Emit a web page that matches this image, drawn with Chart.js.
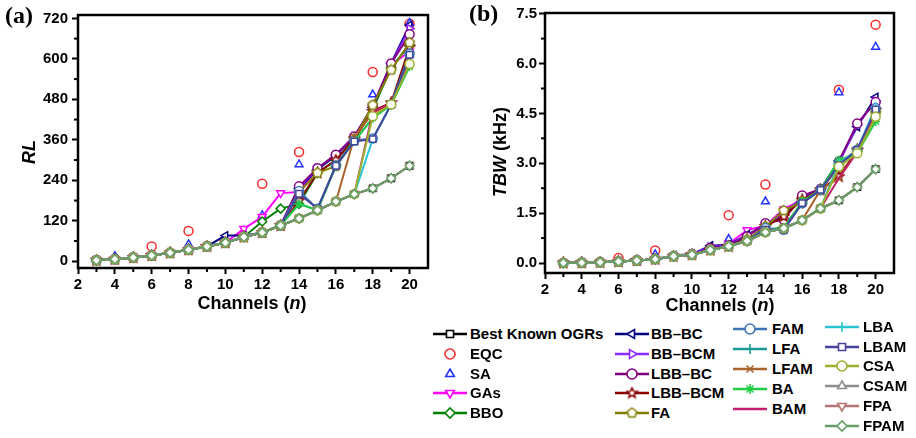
<!DOCTYPE html>
<html><head><meta charset="utf-8">
<script src="https://cdn.jsdelivr.net/npm/chart.js@4.4.1/dist/chart.umd.min.js"></script>
<style>
body{margin:0;width:916px;height:438px;background:#fff;position:relative;overflow:hidden;font-family:"Liberation Sans",Arial,sans-serif;}
.abs{position:absolute;}
.ttl{position:absolute;font-weight:bold;font-size:18px;white-space:nowrap;color:#000;transform:translate(-50%,-50%);}
.ttl.v{transform:translate(-50%,-50%) rotate(-90deg);}
.pl{position:absolute;font-family:"Liberation Serif","Times New Roman",serif;font-weight:bold;font-size:24px;color:#000;}
.lt{position:absolute;font-weight:bold;font-size:15px;line-height:18px;white-space:nowrap;color:#000;}
</style></head>
<body>
<canvas id="ca" class="abs" width="460" height="320" style="left:0;top:0"></canvas>
<canvas id="cb" class="abs" width="456" height="320" style="left:460px;top:0"></canvas>
<div class="pl" style="left:5px;top:2px">(a)</div>
<div class="pl" style="left:469px;top:0px">(b)</div>
<div class="ttl" style="left:252px;top:303px">Channels (<i>n</i>)</div>
<div class="ttl v" style="left:29px;top:152px"><i>RL</i></div>
<div class="ttl" style="left:720px;top:305px">Channels (<i>n</i>)</div>
<div class="ttl v" style="left:500px;top:152px"><i>TBW</i> (kHz)</div>
<div id="legend"></div>
<script>
// ---------- data ----------
const channels = [3,4,5,6,7,8,9,10,11,12,13,14,15,16,17,18,19,20];
const xTicks = [2,4,6,8,10,12,14,16,18,20];
const rlTicks = [0,120,240,360,480,600,720];
const tbwTicks = [0,1.5,3,4.5,6,7.5];

// RL values (left panel)
const rlBest   = [3,6,11,17,25,34,44,55,72,85,106,127,151,177,199,216,246,283];
const rlEQC    = [null,null,null,44,null,90,null,null,null,230,null,324,null,null,null,561,null,704];
const rlSA     = [null,15,null,null,null,50,null,null,null,136,null,287,null,null,null,494,null,706];
const rlGAs    = [3,6,11,17,25,34,44,55,96,132,202,205,275,315,370,458,582,622];
const rlBBO    = [3,6,11,17,25,34,44,55,72,118,156,170,262,300,365,450,575,640];
const rlBBBC   = [3,6,11,17,25,34,44,76,76,85,106,216,272,313,370,456,587,700];
const rlBBBCM  = [3,6,11,17,25,34,44,55,72,85,106,218,276,316,370,458,586,690];
const rlLBBBC  = [3,6,11,17,25,34,44,55,72,85,106,222,276,316,370,460,586,673];
const rlLBBBCM = [3,6,11,17,25,34,44,55,72,85,106,180,262,300,362,445,470,635];
const rlFA     = [3,6,11,17,25,34,44,55,72,85,106,205,262,282,362,463,567,648];
const rlFAM    = [3,6,11,17,25,34,44,55,72,85,106,208,156,284,358,364,465,616];
const rlLFA    = [3,6,11,17,25,34,44,55,72,85,106,170,151,284,355,425,465,605];
const rlLFAM   = [3,6,11,17,25,34,44,55,72,85,106,127,151,177,368,440,465,582];
const rlBA     = [3,6,11,17,25,34,44,55,72,85,106,170,151,283,355,425,463,577];
const rlBAM    = [3,6,11,17,25,34,44,55,72,85,106,127,151,177,199,442,468,592];
const rlLBA    = [3,6,11,17,25,34,44,55,72,85,106,127,151,177,199,362,465,612];
const rlLBAM   = [3,6,11,17,25,34,44,55,72,85,106,200,156,283,355,362,465,612];
const rlCSA    = [3,6,11,17,25,34,44,55,72,85,106,127,151,177,199,430,465,585];
const rlCSAM   = [3,6,11,17,25,34,44,55,72,85,106,127,151,177,199,216,246,283];
const rlFPA    = [3,6,11,17,25,34,44,55,72,85,106,127,151,177,199,216,246,283];
const rlFPAM   = [3,6,11,17,25,34,44,55,72,85,106,127,151,177,199,216,246,283];

// TBW values in kHz (right panel)
const tbwBest   = [0.004,0.011,0.025,0.044,0.077,0.117,0.206,0.249,0.391,0.503,0.660,0.924,1.047,1.285,1.641,1.886,2.283,2.824];
const tbwEQC    = [null,null,null,0.15,null,0.38,null,null,null,1.44,null,2.36,null,null,null,5.21,null,7.17];
const tbwSA     = [null,0.03,null,null,null,0.26,null,null,null,0.72,null,1.85,null,null,null,5.13,null,6.50];
const tbwGAs    = [0.004,0.011,0.025,0.044,0.077,0.117,0.206,0.249,0.45,0.58,0.99,1.12,1.62,1.90,2.20,2.90,3.40,4.50];
const tbwBBO    = [0.004,0.011,0.025,0.044,0.077,0.117,0.206,0.249,0.391,0.50,0.70,0.95,1.10,1.80,2.20,3.00,3.35,4.55];
const tbwBBBC   = [0.004,0.011,0.025,0.044,0.077,0.117,0.23,0.27,0.52,0.55,0.85,1.15,1.45,1.95,2.22,3.08,4.10,4.99];
const tbwBBBCM  = [0.004,0.011,0.025,0.044,0.077,0.117,0.206,0.27,0.48,0.54,0.82,1.15,1.50,1.98,2.22,3.00,4.15,4.88];
const tbwLBBBC  = [0.004,0.011,0.025,0.044,0.077,0.117,0.206,0.249,0.45,0.52,0.80,1.20,1.30,2.03,2.22,3.05,4.20,4.84];
const tbwLBBBCM = [0.004,0.011,0.025,0.044,0.077,0.117,0.206,0.249,0.391,0.503,0.70,1.10,1.40,1.90,2.20,2.60,3.40,4.60];
const tbwFA     = [0.004,0.011,0.025,0.044,0.077,0.117,0.206,0.249,0.391,0.503,0.70,1.10,1.58,1.85,2.20,2.90,3.40,4.50];
const tbwFAM    = [0.004,0.011,0.025,0.044,0.077,0.117,0.206,0.249,0.391,0.503,0.66,1.05,1.00,1.80,2.20,3.00,3.40,4.66];
const tbwLFA    = [0.004,0.011,0.025,0.044,0.077,0.117,0.206,0.249,0.391,0.503,0.66,1.00,1.05,1.80,2.20,3.00,3.30,4.60];
const tbwLFAM   = [0.004,0.011,0.025,0.044,0.077,0.117,0.206,0.249,0.391,0.503,0.660,0.924,1.047,1.29,2.20,2.55,3.35,4.40];
const tbwBA     = [0.004,0.011,0.025,0.044,0.077,0.117,0.206,0.249,0.391,0.503,0.66,0.95,1.05,1.85,2.20,3.10,3.30,4.26];
const tbwBAM    = [0.004,0.011,0.025,0.044,0.077,0.117,0.206,0.249,0.391,0.503,0.660,0.924,1.047,1.285,1.65,2.55,3.35,4.50];
const tbwLBA    = [0.004,0.011,0.025,0.044,0.077,0.117,0.206,0.249,0.391,0.503,0.660,0.924,1.047,1.285,1.65,3.00,3.40,4.70];
const tbwLBAM   = [0.004,0.011,0.025,0.044,0.077,0.117,0.206,0.249,0.391,0.503,0.66,1.00,1.00,1.80,2.20,2.95,3.40,4.62];
const tbwCSA    = [0.004,0.011,0.025,0.044,0.077,0.117,0.206,0.249,0.391,0.503,0.660,0.924,1.047,1.285,1.641,2.90,3.30,4.40];
const tbwCSAM   = [0.004,0.011,0.025,0.044,0.077,0.117,0.206,0.249,0.391,0.503,0.660,0.924,1.047,1.285,1.641,1.886,2.283,2.824];
const tbwFPA    = [0.004,0.011,0.025,0.044,0.077,0.117,0.206,0.249,0.391,0.503,0.660,0.924,1.047,1.285,1.641,1.886,2.283,2.824];
const tbwFPAM   = [0.004,0.011,0.025,0.044,0.077,0.117,0.206,0.249,0.391,0.503,0.660,0.924,1.047,1.285,1.641,1.886,2.283,2.824];

const seriesNames = ['Best Known OGRs','EQC','SA','GAs','BBO','BB–BC','BB–BCM','LBB–BC','LBB–BCM','FA',
  'FAM','LFA','LFAM','BA','BAM','LBA','LBAM','CSA','CSAM','FPA','FPAM'];
const rlSeries = [rlBest,rlEQC,rlSA,rlGAs,rlBBO,rlBBBC,rlBBBCM,rlLBBBC,rlLBBBCM,rlFA,
  rlFAM,rlLFA,rlLFAM,rlBA,rlBAM,rlLBA,rlLBAM,rlCSA,rlCSAM,rlFPA,rlFPAM];
const tbwSeries = [tbwBest,tbwEQC,tbwSA,tbwGAs,tbwBBO,tbwBBBC,tbwBBBCM,tbwLBBBC,tbwLBBBCM,tbwFA,
  tbwFAM,tbwLFA,tbwLFAM,tbwBA,tbwBAM,tbwLBA,tbwLBAM,tbwCSA,tbwCSAM,tbwFPA,tbwFPAM];

// ---------- styles ----------
function shapeImg(color, kind){
  const c = document.createElement('canvas'); c.width = 13; c.height = 13;
  const g = c.getContext('2d'); const cx = 6.5, cy = 6.5;
  g.beginPath();
  const n = kind === 'star' ? 10 : 5;
  for (let i = 0; i < n; i++){
    const a = -Math.PI/2 + i*2*Math.PI/n;
    const r = kind === 'star' ? (i%2 ? 2.3 : 5.3) : 5;
    const px = cx + r*Math.cos(a), py = cy + r*Math.sin(a);
    i ? g.lineTo(px,py) : g.moveTo(px,py);
  }
  g.closePath(); g.fillStyle = '#fff'; g.fill();
  g.strokeStyle = color; g.lineWidth = 1.5; g.stroke();
  return c;
}
const styles = [
  {c:'#000000', ps:'rect'},
  {c:'#ff2a2a', ps:'circle', noLine:true},
  {c:'#2233ff', ps:'triangle', noLine:true},
  {c:'#ff00ff', ps:'triangle', rot:180},
  {c:'#008000', ps:'rectRot'},
  {c:'#000080', ps:'triangle', rot:-90},
  {c:'#8a2cff', ps:'triangle', rot:90},
  {c:'#800080', ps:'circle'},
  {c:'#8b0000', ps:'star5'},
  {c:'#808000', ps:'pent'},
  {c:'#3f74b4', ps:'circle'},
  {c:'#1a9a96', ps:'cross'},
  {c:'#a8642a', ps:'crossRot'},
  {c:'#22cc44', ps:'star'},
  {c:'#c41e6e', ps:false},
  {c:'#2cc4d4', ps:'cross'},
  {c:'#45459e', ps:'rect'},
  {c:'#9ab22e', ps:'circle'},
  {c:'#8c8c8c', ps:'triangle'},
  {c:'#b47474', ps:'triangle', rot:180},
  {c:'#66a066', ps:'rectRot'}
];
styles.forEach(s => {
  if (s.ps === 'pent') s.ps = shapeImg(s.c, 'pent');
  else if (s.ps === 'star5') s.ps = shapeImg(s.c, 'star');
});

function buildDatasets(series){
  return series.map((vals, i) => {
    const s = styles[i];
    return {
      label: seriesNames[i],
      data: channels.map((n, k) => ({x: n, y: vals[k]})),
      borderColor: s.c,
      backgroundColor: '#fff',
      borderWidth: 2,
      showLine: !s.noLine,
      spanGaps: true,
      pointStyle: s.ps === false ? 'circle' : s.ps,
      pointRadius: s.ps === false ? 0 : 4.5,
      pointRotation: s.rot || 0,
      pointBorderColor: s.c,
      pointBackgroundColor: '#fff',
      pointBorderWidth: 1.5,
      order: series.length - i,
      clip: false
    };
  });
}

// ---------- plugin: frame + minor ticks ----------
const framePlugin = {
  id: 'frameMinor',
  afterDraw(chart, args, opts){
    const {ctx, chartArea: a, scales: {x, y}} = chart;
    ctx.save();
    ctx.strokeStyle = '#000'; ctx.lineWidth = 2;
    (opts.x || []).forEach(v => { const p = x.getPixelForValue(v); ctx.beginPath(); ctx.moveTo(p, a.bottom); ctx.lineTo(p, a.bottom + 4); ctx.stroke(); });
    (opts.y || []).forEach(v => { const p = y.getPixelForValue(v); ctx.beginPath(); ctx.moveTo(a.left, p); ctx.lineTo(a.left - 4, p); ctx.stroke(); });
    ctx.lineWidth = 2.5;
    ctx.strokeRect(a.left, a.top, a.right - a.left, a.bottom - a.top);
    ctx.restore();
  }
};

const tickFont = {family: '"Liberation Sans", Arial, sans-serif', size: 15, weight: 'bold'};
function makeChart(id, series, cfg){
  return new Chart(document.getElementById(id), {
    type: 'scatter',
    data: {datasets: buildDatasets(series)},
    plugins: [framePlugin],
    options: {
      responsive: false, animation: false, devicePixelRatio: 1,
      layout: {padding: {left: 0, top: cfg.top, right: cfg.right, bottom: 0}},
      plugins: {legend: {display: false}, tooltip: {enabled: false}, frameMinor: {x: cfg.minorX, y: cfg.minorY}},
      scales: {
        x: {
          type: 'linear', min: 2, max: 21,
          afterBuildTicks: sc => { sc.ticks = xTicks.map(v => ({value: v})); },
          afterFit: sc => { sc.height = cfg.xh; },
          grid: {display: true, drawOnChartArea: false, drawTicks: true, tickLength: 6, tickWidth: 2, tickColor: '#000', color: '#000'},
          border: {display: false},
          ticks: {color: '#000', font: tickFont, padding: 2, maxRotation: 0, autoSkip: false}
        },
        y: {
          type: 'linear', min: cfg.ymin, max: cfg.ymax,
          afterBuildTicks: sc => { sc.ticks = cfg.yTicks.map(v => ({value: v})); },
          afterFit: sc => { sc.width = cfg.yw; },
          grid: {display: true, drawOnChartArea: false, drawTicks: true, tickLength: 6, tickWidth: 2, tickColor: '#000', color: '#000'},
          border: {display: false},
          ticks: {color: '#000', font: tickFont, padding: cfg.ypad, autoSkip: false, callback: cfg.yfmt}
        }
      }
    }
  });
}

makeChart('ca', rlSeries, {
  top: 15, right: 32, xh: 52, yw: 78, ymin: -20, ymax: 730, yTicks: rlTicks, ypad: 4,
  minorX: [3,5,7,9,11,13,15,17,19], minorY: [60,180,300,420,540,660],
  yfmt: v => String(v)
});
makeChart('cb', tbwSeries, {
  top: 13, right: 22, xh: 47, yw: 85, ymin: -0.3, ymax: 7.52, yTicks: tbwTicks, ypad: 2,
  minorX: [3,5,7,9,11,13,15,17,19], minorY: [0.75,2.25,3.75,5.25,6.75],
  yfmt: v => v.toFixed(1)
});

// ---------- legend ----------
const legCols = [
  {lx: 433, tx: 470, y0: 334, idx: [0,1,2,3,4]},
  {lx: 615, tx: 651, y0: 334, idx: [5,6,7,8,9]},
  {lx: 733, tx: 772, y0: 329.3, idx: [10,11,12,13,14]},
  {lx: 825, tx: 863, y0: 326.7, idx: [15,16,17,18,19,20]}
];
const legend = document.getElementById('legend');
legCols.forEach(col => {
  col.idx.forEach((si, r) => {
    const yc = col.y0 + r * 19.8;
    const s = styles[si];
    const cv = document.createElement('canvas');
    cv.width = 34; cv.height = 16; cv.className = 'abs';
    cv.style.left = col.lx + 'px'; cv.style.top = (yc - 8) + 'px';
    const g = cv.getContext('2d');
    if (!s.noLine){ g.strokeStyle = s.c; g.lineWidth = 2.6; g.beginPath(); g.moveTo(0, 8); g.lineTo(34, 8); g.stroke(); }
    if (s.ps !== false){
      g.fillStyle = '#fff'; g.strokeStyle = s.c; g.lineWidth = 1.6;
      if (Chart.helpers && Chart.helpers.drawPoint){
        Chart.helpers.drawPoint(g, {pointStyle: s.ps, rotation: s.rot || 0, radius: 5, borderWidth: 1.6}, 17, 8);
      } else {
        g.beginPath(); g.arc(17, 8, 4.5, 0, Math.PI*2); g.fill(); g.stroke();
      }
    }
    legend.appendChild(cv);
    const t = document.createElement('div');
    t.className = 'lt'; t.textContent = seriesNames[si];
    t.style.left = col.tx + 'px'; t.style.top = (yc - 9) + 'px';
    legend.appendChild(t);
  });
});
</script>
</body></html>
